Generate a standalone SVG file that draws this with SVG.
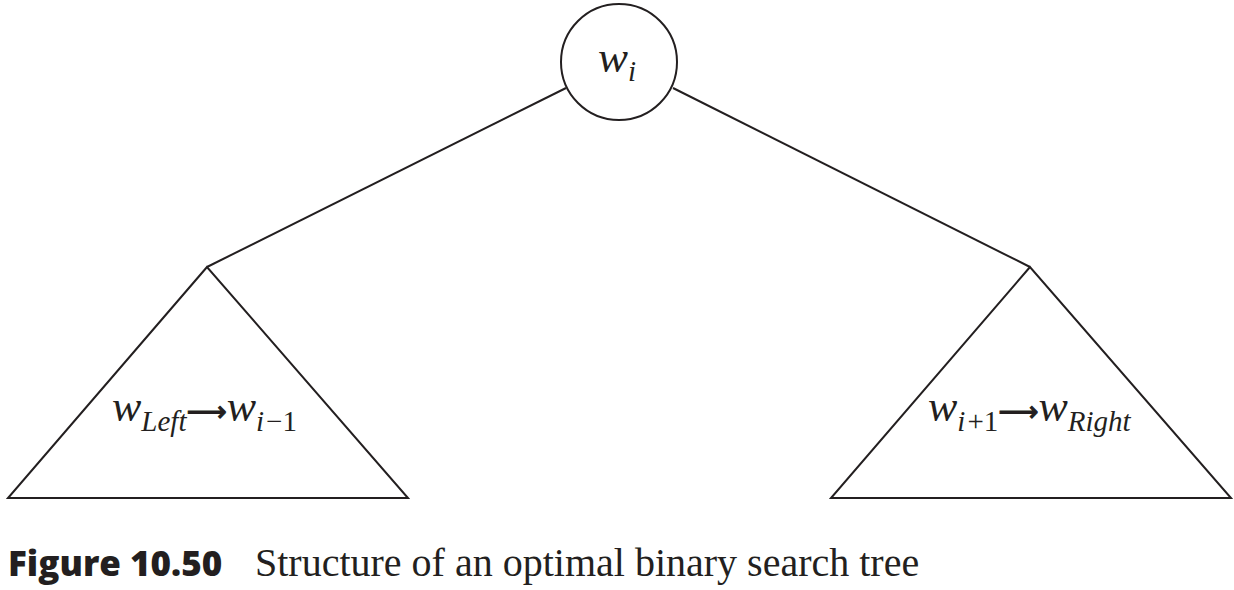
<svg xmlns="http://www.w3.org/2000/svg" width="1234" height="590" viewBox="0 0 1234 590">
<style>
.ln{stroke:#231f20;stroke-width:2;fill:none}
.m{font-family:"Liberation Serif",serif;font-style:italic;fill:#231f20}
.r{font-family:"Liberation Serif",serif;font-style:normal;fill:#231f20}
.ar{font-family:"DejaVu Sans",sans-serif;font-style:normal;fill:#231f20;stroke:#231f20;stroke-width:1}
</style>
<rect width="1234" height="590" fill="#fff"/>
<g id="connectors">
<line class="ln" x1="566" y1="88" x2="207" y2="267"/>
<line class="ln" x1="673" y1="88" x2="1030" y2="267"/>
</g>
<g id="root">
<circle class="ln" cx="619" cy="62" r="58"/>
<text class="m" x="598" y="72" font-size="45">w<tspan font-size="29" dy="9">i</tspan></text>
</g>
<g id="left-subtree">
<polygon class="ln" points="207,267 8,498 408,498"/>
<text class="m" x="112" y="421" font-size="44">w<tspan font-size="29" dy="10">Left</tspan><tspan class="ar" font-size="28" dy="-10">⟶</tspan>w<tspan font-size="29" dy="10">i</tspan><tspan class="r" font-size="29" dx="2">−1</tspan></text>
</g>
<g id="right-subtree">
<polygon class="ln" points="1030,267 831,498 1231,498"/>
<text class="m" x="928" y="421" font-size="44">w<tspan font-size="29" dy="10">i</tspan><tspan class="r" font-size="29" dx="2">+1</tspan><tspan class="ar" font-size="28" dy="-10">⟶</tspan>w<tspan font-size="29" dy="10">Right</tspan></text>
</g>
<g id="caption">
<text x="8" y="576" font-family="'Open Sans','Liberation Sans',sans-serif" font-weight="800" font-size="35" fill="#231f20">Figure 10.50</text>
<text x="255" y="576" font-family="'Liberation Serif',serif" font-size="40" fill="#231f20">Structure of an optimal binary search tree</text>
</g>
</svg>
